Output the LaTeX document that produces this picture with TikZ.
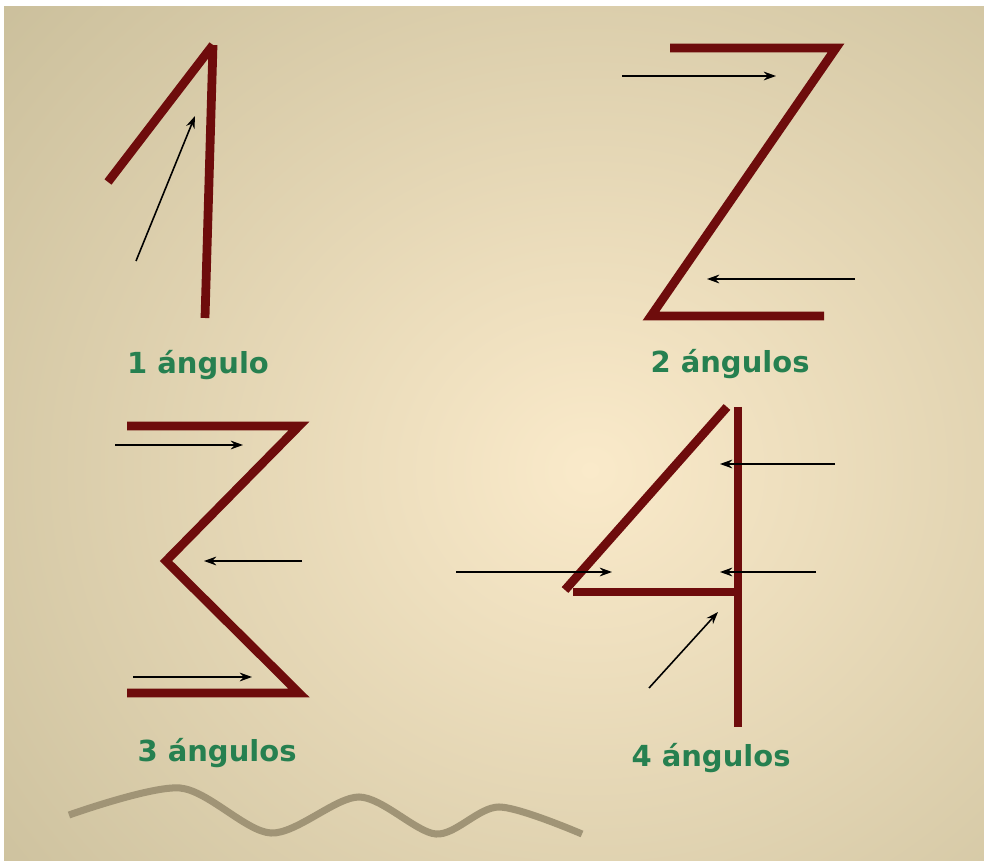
\documentclass[tikz,border=0pt]{standalone}
\usepackage{fontspec}
\newfontfamily\labelfont{DejaVu Sans}
\usepackage{xcolor}
\usepackage{tikz}
\usetikzlibrary{
	arrows.meta
}
\definecolor{DarkRed}{RGB}{110,12,12}
\definecolor{LeafGreen}{RGB}{38,128,80}
\definecolor{Tan}{RGB}{197,186,150}
\definecolor{Cream}{RGB}{250,234,202}
\definecolor{WaveGray}{RGB}{160,148,118}

\tikzset{
	digitline/.style={line width=5pt, DarkRed},
	guide/.style={line width=0.9pt, black, -{Stealth[length=7pt,width=5pt]}},
	lbl/.style={anchor=base, LeafGreen, font=\labelfont\bfseries\fontsize{16.5}{20}\selectfont}
}

\begin{document}
\begin{tikzpicture}[x=0.02cm, y=-0.02cm]
		\useasboundingbox (0,0) rectangle (984,861);
		
		% fondo
		\fill[white] (0,0) rectangle (984,861);
		\fill[Tan] (4,7) rectangle (984,861);
		\begin{scope}
			\clip (4,7) rectangle (984,861);
			\shade[inner color=Cream, outer color=Tan] (590,470) ellipse (880 and 800);
		\end{scope}
		
		% numero 1
		\coordinate (u1arm) at (108,182);
		\coordinate (u1top) at (213,45);
		\coordinate (u1foot) at (205,318);
		\draw[digitline] (u1arm) -- (u1top);
		\draw[digitline] (u1top) -- (u1foot);
		\coordinate (a1s) at (136,261);
		\coordinate (a1e) at (195,116);
		\draw[guide] (a1s) -- (a1e);
		\node[lbl] (lab1) at (198,374) {1 ángulo};
		
		% numero 2
		\coordinate (d2a) at (670,48);
		\coordinate (d2b) at (836,48);
		\coordinate (d2c) at (651,316);
		\coordinate (d2d) at (824,316);
		\draw[digitline] (d2a) -- (d2b) -- (d2c) -- (d2d);
		\coordinate (a2s) at (622,76);
		\coordinate (a2e) at (776,76);
		\coordinate (b2s) at (855,279);
		\coordinate (b2e) at (707,279);
		\draw[guide] (a2s) -- (a2e);
		\draw[guide] (b2s) -- (b2e);
		\node[lbl] (lab2) at (730,373) {2 ángulos};
		
		% numero 3
		\coordinate (d3a) at (127,426);
		\coordinate (d3b) at (299,426);
		\coordinate (d3c) at (166,561);
		\coordinate (d3d) at (299,693);
		\coordinate (d3e) at (127,693);
		\draw[digitline] (d3a) -- (d3b) -- (d3c) -- (d3d) -- (d3e);
		\coordinate (a3s) at (115,445);
		\coordinate (a3e) at (243,445);
		\coordinate (b3s) at (302,561);
		\coordinate (b3e) at (204,561);
		\coordinate (c3s) at (133,677);
		\coordinate (c3e) at (252,677);
		\draw[guide] (a3s) -- (a3e);
		\draw[guide] (b3s) -- (b3e);
		\draw[guide] (c3s) -- (c3e);
		\node[lbl] (lab3) at (217,761) {3 ángulos};
		
		% numero 4
		\coordinate (d4top) at (738,407);
		\coordinate (d4foot) at (738,727);
		\coordinate (d4tip) at (727,407);
		\coordinate (d4low) at (565,590);
		\coordinate (d4bar) at (573,592);
		\coordinate (d4mid) at (738,592);
		\draw[digitline] (d4top) -- (d4foot);
		\draw[digitline] (d4tip) -- (d4low);
		\draw[digitline] (d4bar) -- (d4mid);
		\coordinate (a4s) at (835,464);
		\coordinate (a4e) at (720,464);
		\coordinate (b4s) at (456,572);
		\coordinate (b4e) at (612,572);
		\coordinate (c4s) at (816,572);
		\coordinate (c4e) at (720,572);
		\coordinate (e4s) at (649,688);
		\coordinate (e4e) at (718,612);
		\draw[guide] (a4s) -- (a4e);
		\draw[guide] (b4s) -- (b4e);
		\draw[guide] (c4s) -- (c4e);
		\draw[guide] (e4s) -- (e4e);
		\node[lbl] (lab4) at (711,766) {4 ángulos};
		
		% onda
		\draw[line width=4pt, WaveGray, smooth] plot coordinates {(69,815) (180,788) (271,833) (359,797) (436,834) (499,807) (582,834)};
	\end{tikzpicture}
\end{document}
